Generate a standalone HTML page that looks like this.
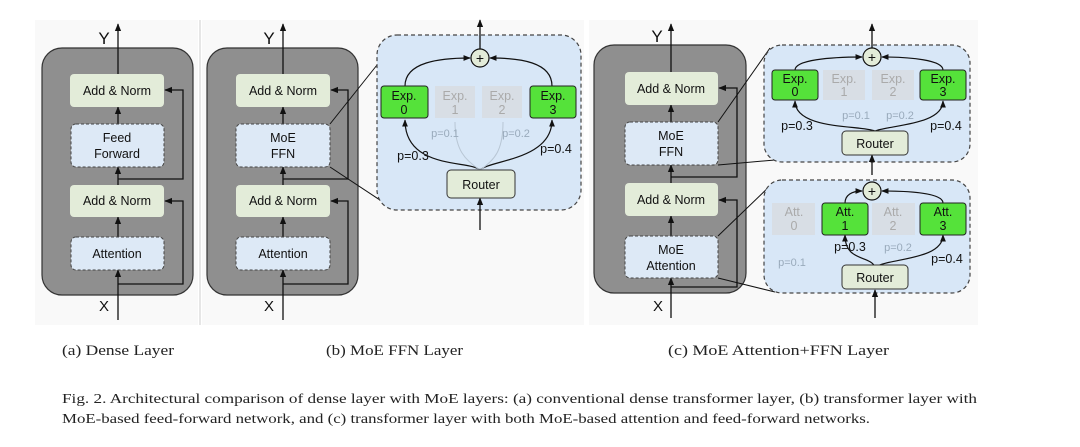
<!DOCTYPE html>
<html><head><meta charset="utf-8"><style>
html,body{margin:0;padding:0;background:#fff;}
svg{display:block;}
.s{font-family:"Liberation Sans",sans-serif;}
.c{font-family:"Liberation Serif",serif;}
</style></head><body>
<svg width="1080" height="447" viewBox="0 0 1080 447" xmlns="http://www.w3.org/2000/svg">
<defs>
<marker id="a" viewBox="0 0 10 10" refX="9" refY="5" markerWidth="6" markerHeight="6" orient="auto"><path d="M0,1 L10,5 L0,9 z" fill="#111"/></marker>
</defs>
<rect x="35" y="20" width="163" height="305" fill="#f9f9f9"/>
<rect x="202" y="20" width="382" height="305" fill="#f9f9f9"/>
<rect x="589" y="20" width="389" height="305" fill="#f9f9f9"/>
<rect x="199" y="20" width="2" height="305" fill="#e6e6e6"/>

<g class="s" font-size="12.5" fill="#111" text-anchor="middle">
<!-- (a) -->
<rect x="42" y="48" width="151" height="247" rx="20" fill="#8f8f8f" stroke="#333" stroke-width="1.2"/>
<line x1="118" y1="74" x2="118" y2="24" stroke="#111" stroke-width="1.3" marker-end="url(#a)"/>
<text x="104" y="44" font-size="17">Y</text>
<line x1="118" y1="320" x2="118" y2="270" stroke="#111" stroke-width="1.3" marker-end="url(#a)"/>
<text x="104" y="311" font-size="15">X</text>
<line x1="118" y1="124" x2="118" y2="107" stroke="#111" stroke-width="1.3" marker-end="url(#a)"/>
<line x1="118" y1="185" x2="118" y2="167" stroke="#111" stroke-width="1.3" marker-end="url(#a)"/>
<line x1="118" y1="237" x2="118" y2="217" stroke="#111" stroke-width="1.3" marker-end="url(#a)"/>
<polyline points="118,284 183,284 183,201 165,201" fill="none" stroke="#111" stroke-width="1.3" marker-end="url(#a)"/>
<polyline points="118,179 183,179 183,90 165,90" fill="none" stroke="#111" stroke-width="1.3" marker-end="url(#a)"/>
<rect x="70" y="74" width="94" height="33" rx="4" fill="#e3ecd9"/>
<text x="117" y="95">Add &amp; Norm</text>
<rect x="71" y="124" width="93" height="43" rx="5" fill="#dde9f6" stroke="#444" stroke-dasharray="3,2"/>
<text x="117" y="142">Feed</text><text x="117" y="158">Forward</text>
<rect x="70" y="185" width="94" height="32" rx="4" fill="#e3ecd9"/>
<text x="117" y="205">Add &amp; Norm</text>
<rect x="71" y="237" width="93" height="33" rx="5" fill="#dde9f6" stroke="#444" stroke-dasharray="3,2"/>
<text x="117" y="258">Attention</text>

<!-- (b) -->
<rect x="207" y="48" width="151" height="247" rx="20" fill="#8f8f8f" stroke="#333" stroke-width="1.2"/>
<line x1="283" y1="74" x2="283" y2="24" stroke="#111" stroke-width="1.3" marker-end="url(#a)"/>
<text x="269" y="44" font-size="17">Y</text>
<line x1="283" y1="320" x2="283" y2="270" stroke="#111" stroke-width="1.3" marker-end="url(#a)"/>
<text x="269" y="311" font-size="15">X</text>
<line x1="283" y1="124" x2="283" y2="107" stroke="#111" stroke-width="1.3" marker-end="url(#a)"/>
<line x1="283" y1="185" x2="283" y2="167" stroke="#111" stroke-width="1.3" marker-end="url(#a)"/>
<line x1="283" y1="237" x2="283" y2="217" stroke="#111" stroke-width="1.3" marker-end="url(#a)"/>
<polyline points="283,284 348,284 348,201 331,201" fill="none" stroke="#111" stroke-width="1.3" marker-end="url(#a)"/>
<polyline points="283,179 348,179 348,90 331,90" fill="none" stroke="#111" stroke-width="1.3" marker-end="url(#a)"/>
<rect x="236" y="74" width="94" height="33" rx="4" fill="#e3ecd9"/>
<text x="283" y="95">Add &amp; Norm</text>
<rect x="236" y="124" width="94" height="43" rx="5" fill="#dde9f6" stroke="#444" stroke-dasharray="3,2"/>
<text x="283" y="142">MoE</text><text x="283" y="158">FFN</text>
<rect x="236" y="185" width="94" height="32" rx="4" fill="#e3ecd9"/>
<text x="283" y="205">Add &amp; Norm</text>
<rect x="236" y="237" width="94" height="33" rx="5" fill="#dde9f6" stroke="#444" stroke-dasharray="3,2"/>
<text x="283" y="258">Attention</text>
<line x1="330" y1="124" x2="381" y2="60" stroke="#111"/>
<line x1="330" y1="167" x2="386" y2="204" stroke="#111"/>
<rect x="377" y="35" width="204" height="175" rx="20" fill="#d8e7f7" stroke="#444" stroke-dasharray="4,3" stroke-width="1.2"/>
<line x1="480" y1="49" x2="480" y2="20" stroke="#111" stroke-width="1.3" marker-end="url(#a)"/>
<line x1="480" y1="230" x2="480" y2="198" stroke="#111" stroke-width="1.3" marker-end="url(#a)"/>
<path d="M405,86 C405,62 440,58 470,58" fill="none" stroke="#111" stroke-width="1.2" marker-end="url(#a)"/>
<path d="M552,86 C552,62 520,58 490,58" fill="none" stroke="#111" stroke-width="1.2" marker-end="url(#a)"/>
<path d="M480,170 C470,160 405,170 405,120" fill="none" stroke="#111" stroke-width="1.2" marker-end="url(#a)"/>
<path d="M480,170 C490,160 552,160 552,120" fill="none" stroke="#111" stroke-width="1.2" marker-end="url(#a)"/>
<path d="M480,170 C465,160 455,150 455,122 M480,170 C495,160 503,150 503,122" fill="none" stroke="#b8c6d4" stroke-width="1"/>
<circle cx="480" cy="58" r="9" fill="#e3ecd9" stroke="#111" stroke-width="1.2"/>
<text x="480" y="63" font-size="14">+</text>
<rect x="381" y="86" width="47" height="32" rx="3" fill="#55e23a" stroke="#222"/>
<text x="404" y="100">Exp.</text><text x="404" y="114">0</text>
<rect x="435" y="86" width="40" height="32" fill="#d9d9d9" opacity="0.6"/>
<text x="455" y="100" fill="#aaa">Exp.</text><text x="455" y="114" fill="#aaa">1</text>
<rect x="482" y="86" width="40" height="32" fill="#d9d9d9" opacity="0.6"/>
<text x="502" y="100" fill="#aaa">Exp.</text><text x="502" y="114" fill="#aaa">2</text>
<rect x="530" y="86" width="46" height="32" rx="3" fill="#55e23a" stroke="#222"/>
<text x="553" y="100">Exp.</text><text x="553" y="114">3</text>
<text x="445" y="137" fill="#9ab" font-size="11">p=0.1</text>
<text x="516" y="137" fill="#9ab" font-size="11">p=0.2</text>
<text x="413" y="160">p=0.3</text>
<text x="556" y="153">p=0.4</text>
<rect x="447" y="170" width="68" height="28" rx="4" fill="#e3ecd9" stroke="#333"/>
<text x="481" y="189">Router</text>

<!-- (c) -->
<rect x="594" y="45" width="152" height="248" rx="20" fill="#8f8f8f" stroke="#333" stroke-width="1.2"/>
<line x1="671" y1="72" x2="671" y2="24" stroke="#111" stroke-width="1.3" marker-end="url(#a)"/>
<text x="657" y="42" font-size="17">Y</text>
<line x1="671" y1="318" x2="671" y2="278" stroke="#111" stroke-width="1.3" marker-end="url(#a)"/>
<text x="658" y="311" font-size="15">X</text>
<line x1="671" y1="122" x2="671" y2="105" stroke="#111" stroke-width="1.3" marker-end="url(#a)"/>
<line x1="671" y1="183" x2="671" y2="165" stroke="#111" stroke-width="1.3" marker-end="url(#a)"/>
<line x1="671" y1="236" x2="671" y2="216" stroke="#111" stroke-width="1.3" marker-end="url(#a)"/>
<polyline points="671,287 737,287 737,200 719,200" fill="none" stroke="#111" stroke-width="1.3" marker-end="url(#a)"/>
<polyline points="671,177 737,177 737,88 719,88" fill="none" stroke="#111" stroke-width="1.3" marker-end="url(#a)"/>
<rect x="625" y="72" width="93" height="33" rx="4" fill="#e3ecd9"/>
<text x="671" y="93">Add &amp; Norm</text>
<rect x="625" y="122" width="93" height="43" rx="5" fill="#dde9f6" stroke="#444" stroke-dasharray="3,2"/>
<text x="671" y="140">MoE</text><text x="671" y="156">FFN</text>
<rect x="625" y="183" width="93" height="33" rx="4" fill="#e3ecd9"/>
<text x="671" y="204">Add &amp; Norm</text>
<rect x="625" y="236" width="93" height="42" rx="5" fill="#dde9f6" stroke="#444" stroke-dasharray="3,2"/>
<text x="671" y="254">MoE</text><text x="671" y="270">Attention</text>
<line x1="718" y1="122" x2="770" y2="48" stroke="#111"/>
<line x1="718" y1="165" x2="775" y2="160" stroke="#111"/>
<line x1="718" y1="236" x2="772" y2="184" stroke="#111"/>
<line x1="718" y1="278" x2="775" y2="292" stroke="#111"/>
<rect x="764" y="45" width="206" height="117" rx="18" fill="#d8e7f7" stroke="#444" stroke-dasharray="4,3" stroke-width="1.2"/>
<line x1="872" y1="48" x2="872" y2="24" stroke="#111" stroke-width="1.3" marker-end="url(#a)"/>
<line x1="872" y1="175" x2="872" y2="155" stroke="#111" stroke-width="1.3" marker-end="url(#a)"/>
<path d="M795,70 C795,60 830,57 862,57" fill="none" stroke="#111" stroke-width="1.2" marker-end="url(#a)"/>
<path d="M943,70 C943,60 910,57 882,57" fill="none" stroke="#111" stroke-width="1.2" marker-end="url(#a)"/>
<path d="M875,131 C860,125 795,130 795,101" fill="none" stroke="#111" stroke-width="1.2" marker-end="url(#a)"/>
<path d="M875,131 C890,125 943,125 943,101" fill="none" stroke="#111" stroke-width="1.2" marker-end="url(#a)"/>
<circle cx="872" cy="57" r="9" fill="#e3ecd9" stroke="#111" stroke-width="1.2"/>
<text x="872" y="62" font-size="14">+</text>
<rect x="772" y="70" width="46" height="30" rx="3" fill="#55e23a" stroke="#222"/>
<text x="795" y="83">Exp.</text><text x="795" y="96">0</text>
<rect x="823" y="70" width="42" height="30" fill="#d9d9d9" opacity="0.6"/>
<text x="844" y="83" fill="#aaa">Exp.</text><text x="844" y="96" fill="#aaa">1</text>
<rect x="872" y="70" width="42" height="30" fill="#d9d9d9" opacity="0.6"/>
<text x="893" y="83" fill="#aaa">Exp.</text><text x="893" y="96" fill="#aaa">2</text>
<rect x="920" y="70" width="46" height="30" rx="3" fill="#55e23a" stroke="#222"/>
<text x="943" y="83">Exp.</text><text x="943" y="96">3</text>
<text x="856" y="119" fill="#9ab" font-size="11">p=0.1</text>
<text x="900" y="119" fill="#9ab" font-size="11">p=0.2</text>
<text x="797" y="130">p=0.3</text>
<text x="946" y="130">p=0.4</text>
<rect x="842" y="131" width="66" height="24" rx="4" fill="#e3ecd9" stroke="#333"/>
<text x="875" y="148">Router</text>
<rect x="764" y="180" width="206" height="113" rx="18" fill="#d8e7f7" stroke="#444" stroke-dasharray="4,3" stroke-width="1.2"/>
<line x1="875" y1="318" x2="875" y2="290" stroke="#111" stroke-width="1.3" marker-end="url(#a)"/>
<path d="M845,203 C845,195 852,191 862,191" fill="none" stroke="#111" stroke-width="1.2" marker-end="url(#a)"/>
<path d="M943,203 C943,193 910,191 882,191" fill="none" stroke="#111" stroke-width="1.2" marker-end="url(#a)"/>
<path d="M875,267 C870,255 845,262 845,235" fill="none" stroke="#111" stroke-width="1.2" marker-end="url(#a)"/>
<path d="M875,267 C890,258 943,260 943,235" fill="none" stroke="#111" stroke-width="1.2" marker-end="url(#a)"/>
<circle cx="872" cy="191" r="9" fill="#e3ecd9" stroke="#111" stroke-width="1.2"/>
<text x="872" y="196" font-size="14">+</text>
<rect x="772" y="203" width="43" height="32" fill="#d9d9d9" opacity="0.6"/>
<text x="794" y="216" fill="#aaa">Att.</text><text x="794" y="230" fill="#aaa">0</text>
<rect x="822" y="203" width="46" height="32" rx="3" fill="#55e23a" stroke="#222"/>
<text x="845" y="216">Att.</text><text x="845" y="230">1</text>
<rect x="872" y="203" width="43" height="32" fill="#d9d9d9" opacity="0.6"/>
<text x="893" y="216" fill="#aaa">Att.</text><text x="893" y="230" fill="#aaa">2</text>
<rect x="920" y="203" width="46" height="32" rx="3" fill="#55e23a" stroke="#222"/>
<text x="943" y="216">Att.</text><text x="943" y="230">3</text>
<text x="850" y="251">p=0.3</text>
<text x="898" y="251" fill="#9ab" font-size="11">p=0.2</text>
<text x="792" y="266" fill="#9ab" font-size="11">p=0.1</text>
<text x="947" y="263">p=0.4</text>
<rect x="842" y="265" width="66" height="24" rx="4" fill="#e3ecd9" stroke="#333"/>
<text x="875" y="282">Router</text>
</g>

<g class="c" font-size="15" fill="#222">
<text x="62" y="355" textLength="112" lengthAdjust="spacingAndGlyphs">(a) Dense Layer</text>
<text x="326" y="355" textLength="137" lengthAdjust="spacingAndGlyphs">(b) MoE FFN Layer</text>
<text x="668" y="355" textLength="221" lengthAdjust="spacingAndGlyphs">(c) MoE Attention+FFN Layer</text>
<text x="62" y="403" font-size="14" textLength="915" lengthAdjust="spacingAndGlyphs">Fig. 2.  Architectural comparison of dense layer with MoE layers: (a) conventional dense transformer layer, (b) transformer layer with</text>
<text x="62" y="423" font-size="14" textLength="808" lengthAdjust="spacingAndGlyphs">MoE-based feed-forward network, and (c) transformer layer with both MoE-based attention and feed-forward networks.</text>
</g>
</svg>
</body></html>
